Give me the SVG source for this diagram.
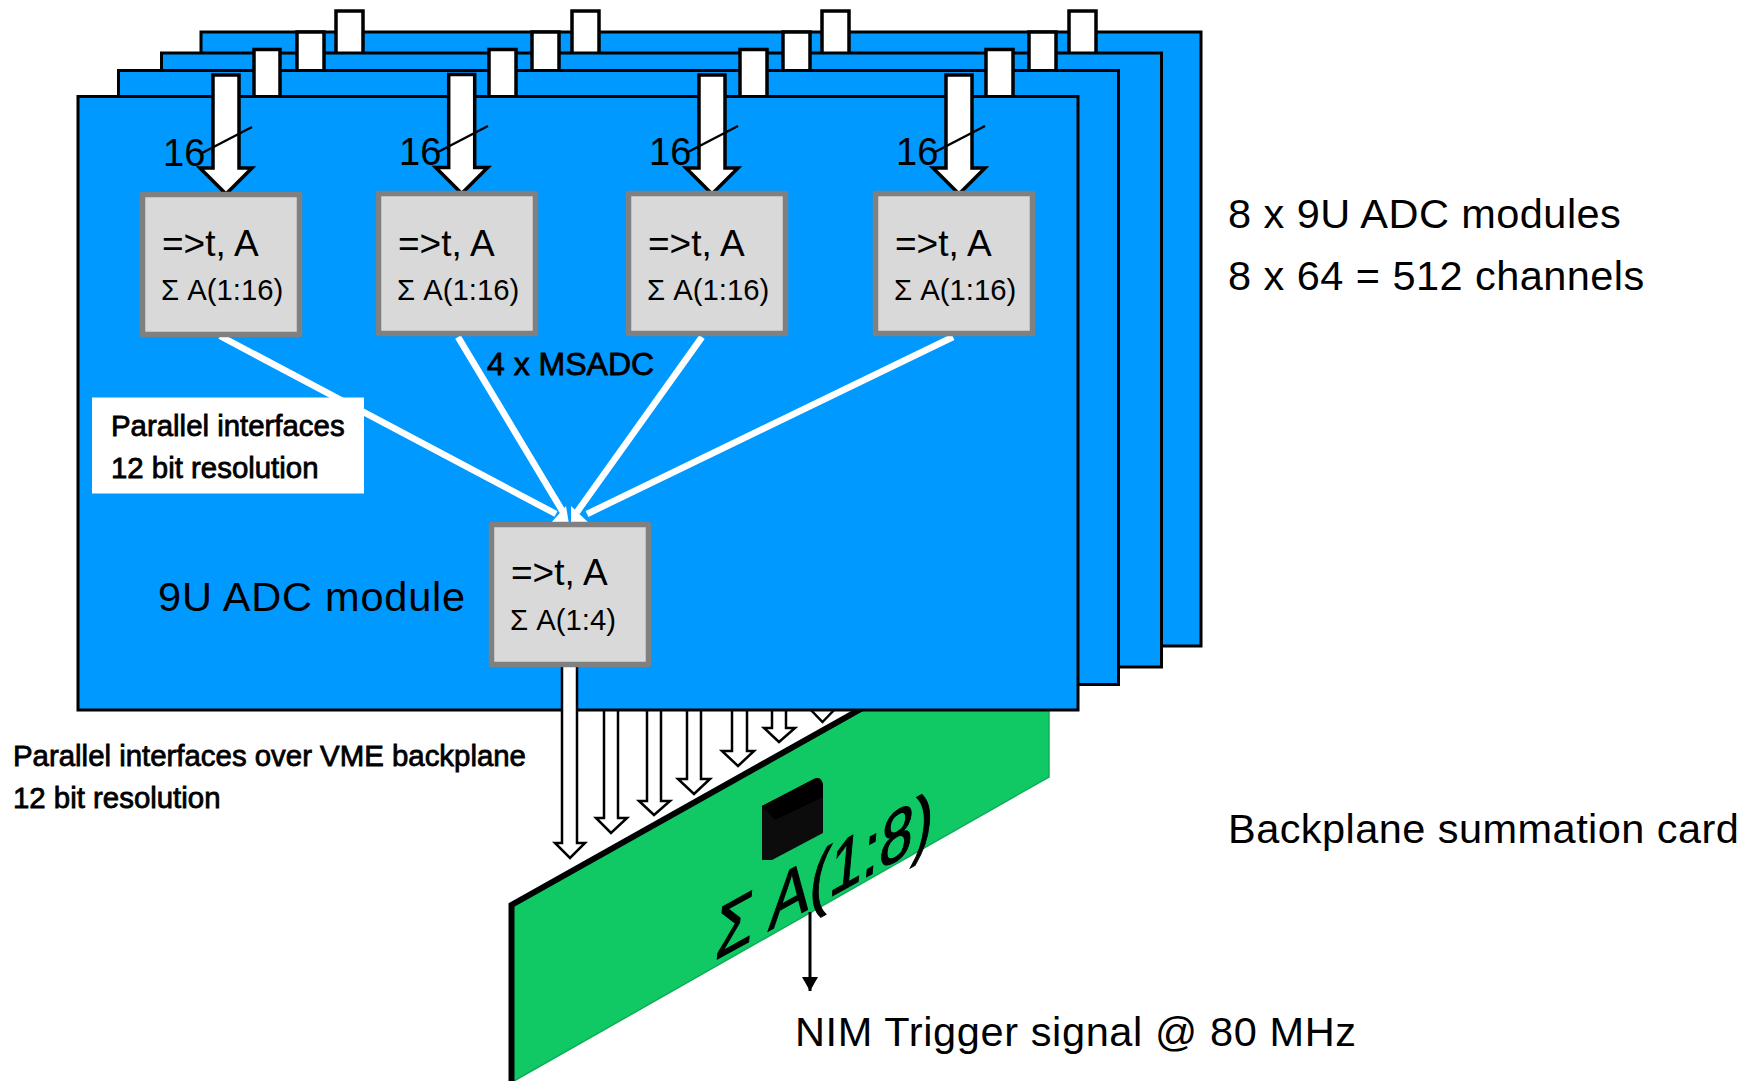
<svg xmlns="http://www.w3.org/2000/svg" xmlns:xlink="http://www.w3.org/1999/xlink" width="1746" height="1081" viewBox="0 0 1746 1081">
<style>
text{font-family:"Liberation Sans",Arial,sans-serif;fill:#000}
.board{fill:#0099ff;stroke:#000;stroke-width:3}
.tab{fill:#fff;stroke:#000;stroke-width:3.5}
.box{fill:#d9d9d9;stroke:#808080;stroke-width:5.5;stroke-linejoin:round}
.arrow{fill:#fff;stroke:#000;stroke-width:3.5;stroke-linejoin:miter}
.bus{fill:#fff;stroke:#000;stroke-width:2.5}
.wire{fill:none;stroke:#fff;stroke-width:6.5}
.big{font-size:37px}.sum{font-size:29.3px}.n16{font-size:38px}
.note{font-size:41.5px;letter-spacing:.45px}
.bold{font-size:29.4px;stroke:#000;stroke-width:.8}
</style>
<defs>
<polygon id="inArrow" class="arrow" points="213,75 239,75 239,168 252,168 226,194 200,168 213,168"/>
<marker id="nim" markerUnits="userSpaceOnUse" markerWidth="16" markerHeight="16" refX="14" refY="8" orient="auto"><path d="M0,0L14,8L0,16z" fill="#000"/></marker>
</defs>

<g id="summation-card">
<polygon points="510,905 1000,630 1049,630 1049,777 514,1081 510,1081" fill="#10c864"/>
<path d="M1049,630V777L514,1081" fill="none" stroke="#0eae58" stroke-width="1.500"/>
<path d="M511.500,1081V905L900,687" fill="none" stroke="#000" stroke-width="6"/>
<path d="M762,806L812,780Q821,774 823,785V833L772,860H762z" fill="#0c0c0c"/>
<path d="M762,806L812,780Q821,774 823,785V797L775,820z" fill="#000"/>
<text transform="matrix(.6 -.33 -.07 .76 714 961)" font-size="100" stroke="#000" stroke-width="1.5">Σ A(1:8)</text>
</g>

<g id="backplane-buses">
<polygon class="bus" points="604,700 618,700 618,818 627,818 611,833 596,818 604,818"/>
<polygon class="bus" points="647,700 661,700 661,801 670,801 654,815 639,801 647,801"/>
<polygon class="bus" points="687,700 701,700 701,779 710,779 694,794 678,779 687,779"/>
<polygon class="bus" points="732,700 747,700 747,751 754,751 738,766 722,751 732,751"/>
<polygon class="bus" points="772,700 786,700 786,728 795,728 779,742 764,728 772,728"/>
<polygon class="bus" points="815,700 829,700 829,708 836,708 822.500,722 809,708 815,708"/>
</g>

<g id="board-4"><rect class="board" x="201" y="32" width="1000" height="614"/>
<rect class="tab" x="336" y="11" width="27" height="60"/><rect class="tab" x="572" y="11" width="27" height="60"/><rect class="tab" x="822" y="11" width="27" height="60"/><rect class="tab" x="1069" y="11" width="27" height="60"/></g>
<g id="board-3"><rect class="board" x="161.500" y="53" width="1000" height="614"/>
<rect class="tab" x="297" y="32" width="27" height="60"/><rect class="tab" x="532" y="32" width="27" height="60"/><rect class="tab" x="783" y="32" width="27" height="60"/><rect class="tab" x="1029" y="32" width="27" height="60"/></g>
<g id="board-2"><rect class="board" x="118.500" y="70.500" width="1000" height="614"/>
<rect class="tab" x="254" y="49.500" width="26" height="60"/><rect class="tab" x="489" y="49.500" width="27" height="60"/><rect class="tab" x="740" y="49.500" width="27" height="60"/><rect class="tab" x="986" y="49.500" width="27" height="60"/></g>
<g id="board-1"><rect class="board" x="78" y="96.500" width="1000" height="613.500"/></g>

<g id="connectors">
<use xlink:href="#inArrow" href="#inArrow"/>
<use xlink:href="#inArrow" href="#inArrow" x="235.700" y="-.5"/>
<use xlink:href="#inArrow" href="#inArrow" x="486"/>
<use xlink:href="#inArrow" href="#inArrow" x="733"/>
<path d="M202,153L252,127M438,152L488,126M688,152L738,126M935,152L985,126" stroke="#000" stroke-width="2.500" fill="none"/>
<path class="wire" d="M220,336L556,514M458,337L563,512M702,337L577,512M953,337L587,514"/>
<path d="M550,524L566,506L569,524zM571,506L590,524H571z" fill="#fff"/>
<polygon class="bus" points="562,664 577,664 577,843 585,843 570,858 555,843 562,843"/>
<path d="M810,912V991" stroke="#000" stroke-width="3" marker-end="url(#nim)"/>
</g>

<g id="msadc-1"><rect class="box" x="142.500" y="194.500" width="157" height="140"/><text class="big" x="162" y="256">=&gt;t, A</text><text class="sum" x="161" y="300">Σ A(1:16)</text><text class="n16" x="163" y="166">16</text></g>
<g id="msadc-2"><rect class="box" x="378.500" y="193.500" width="157" height="140"/><text class="big" x="398" y="256">=&gt;t, A</text><text class="sum" x="397" y="300">Σ A(1:16)</text><text class="n16" x="399" y="165">16</text></g>
<g id="msadc-3"><rect class="box" x="628.500" y="193.500" width="157" height="140"/><text class="big" x="648" y="256">=&gt;t, A</text><text class="sum" x="647" y="300">Σ A(1:16)</text><text class="n16" x="649" y="165">16</text></g>
<g id="msadc-4"><rect class="box" x="875.500" y="193.500" width="157" height="140"/><text class="big" x="895" y="256">=&gt;t, A</text><text class="sum" x="894" y="300">Σ A(1:16)</text><text class="n16" x="896" y="165">16</text></g>
<g id="sum-fpga"><rect class="box" x="491.500" y="524.500" width="157" height="140"/><text class="big" x="511" y="585">=&gt;t, A</text><text class="sum" x="510" y="630">Σ A(1:4)</text></g>

<g id="labels">
<rect x="92" y="397.500" width="272" height="96" fill="#fff"/>
<text class="bold" x="111" y="436">Parallel interfaces</text>
<text class="bold" x="111" y="478">12 bit resolution</text>
<text class="bold" x="487" y="375" style="font-size:32px">4 x MSADC</text>
<text class="note" x="158" y="611" style="letter-spacing:.8px">9U ADC module</text>
<text class="bold" x="13" y="766">Parallel interfaces over VME backplane</text>
<text class="bold" x="13" y="808">12 bit resolution</text>
<text class="note" x="1228" y="228">8 x 9U ADC modules</text>
<text class="note" x="1228" y="290">8 x 64 = 512 channels</text>
<text class="note" x="1228" y="843">Backplane summation card</text>
<text class="note" x="795" y="1046" style="letter-spacing:.62px">NIM Trigger signal @ 80 MHz</text>
</g>
</svg>
